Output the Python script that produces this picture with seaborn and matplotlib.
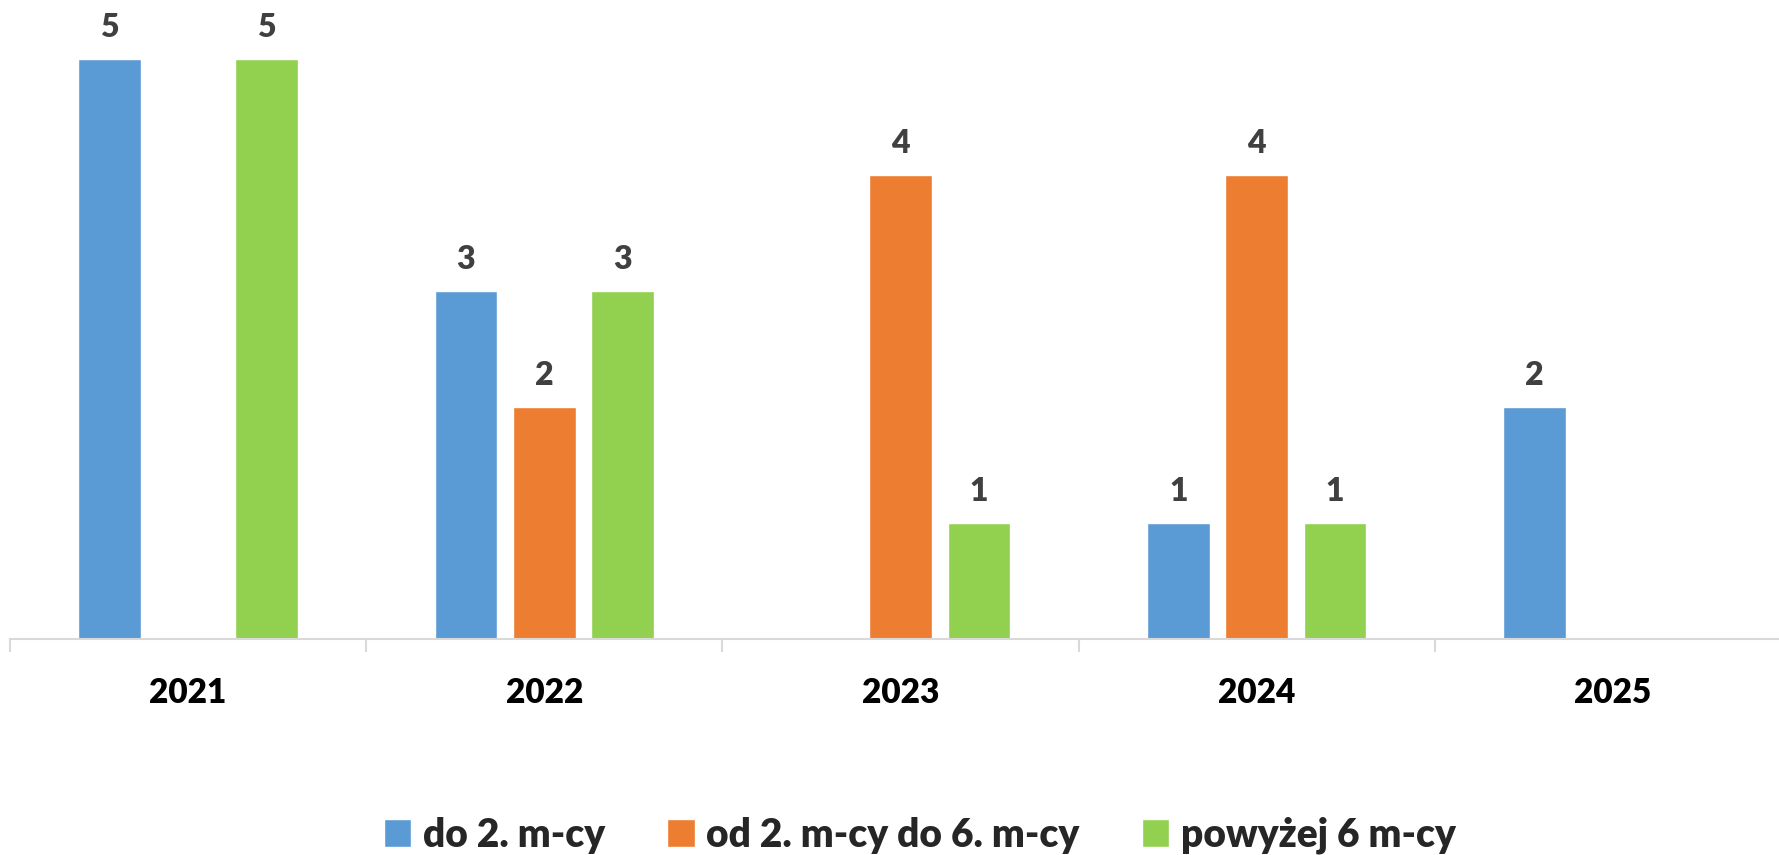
import matplotlib
matplotlib.use("Agg")
import matplotlib.pyplot as plt
import seaborn as sns
import pandas as pd
import numpy as np

years = ["2021", "2022", "2023", "2024", "2025"]
series_names = ["do 2. m-cy", "od 2. m-cy do 6. m-cy", "powyżej 6 m-cy"]
do_2 = [5, 3, 0, 1, 2]
od_2_do_6 = [0, 2, 4, 4, 0]
powyzej_6 = [5, 3, 1, 1, 0]
colors = ["#5B9BD5", "#ED7D31", "#92D050"]

rows = []
for name, vals in zip(series_names, [do_2, od_2_do_6, powyzej_6]):
    for y, v in zip(years, vals):
        rows.append({"rok": y, "seria": name, "wartosc": v})
df = pd.DataFrame(rows)

sns.set_theme(style="white")
plt.rcParams["font.family"] = ["Lato", "DejaVu Sans"]
WEIGHT = "heavy"

W, H = 1779, 855
fig = plt.figure(figsize=(W / 100, H / 100), dpi=100)
ax = fig.add_axes([10 / W, 216 / H, 1781 / W, 638 / H])

sns.barplot(data=df, x="rok", y="wartosc", hue="seria", order=years,
            hue_order=series_names, palette=colors, width=0.66, gap=0.2,
            saturation=1, ax=ax, legend=True)

for cont in ax.containers:
    labels = [f"{int(b.get_height())}" if b.get_height() > 0 else "" for b in cont]
    ax.bar_label(cont, labels=labels, padding=12, fontsize=23, fontweight=WEIGHT,
                 color="#404040")

ax.set_xlim(-0.5, 4.5)
ax.set_ylim(0, 5.5)
ax.set_xlabel("")
ax.set_ylabel("")
ax.set_yticks([])
for s in ["top", "right", "left"]:
    ax.spines[s].set_visible(False)
ax.spines["bottom"].set_color("#d9d9d9")
ax.spines["bottom"].set_linewidth(1.5)

ax.set_xticks(np.arange(-0.5, 5, 1), minor=True)
ax.tick_params(axis="x", which="minor", length=9, width=1.5, color="#d9d9d9", direction="out", bottom=True)
ax.tick_params(axis="x", which="major", length=0, pad=27, labelsize=24)
for t in ax.get_xticklabels():
    t.set_fontweight(WEIGHT)
    t.set_color("black")

handles, labs = ax.get_legend_handles_labels()
ax.legend_.remove()
fig.legend(handles, labs, loc="lower center", bbox_to_anchor=(0.517, -0.04), ncol=3,
           frameon=False, prop={"size": 28, "weight": WEIGHT}, handlelength=0.7,
           handleheight=0.7, handletextpad=0.3, columnspacing=1.6)

fig.savefig("out.png", dpi=100)
